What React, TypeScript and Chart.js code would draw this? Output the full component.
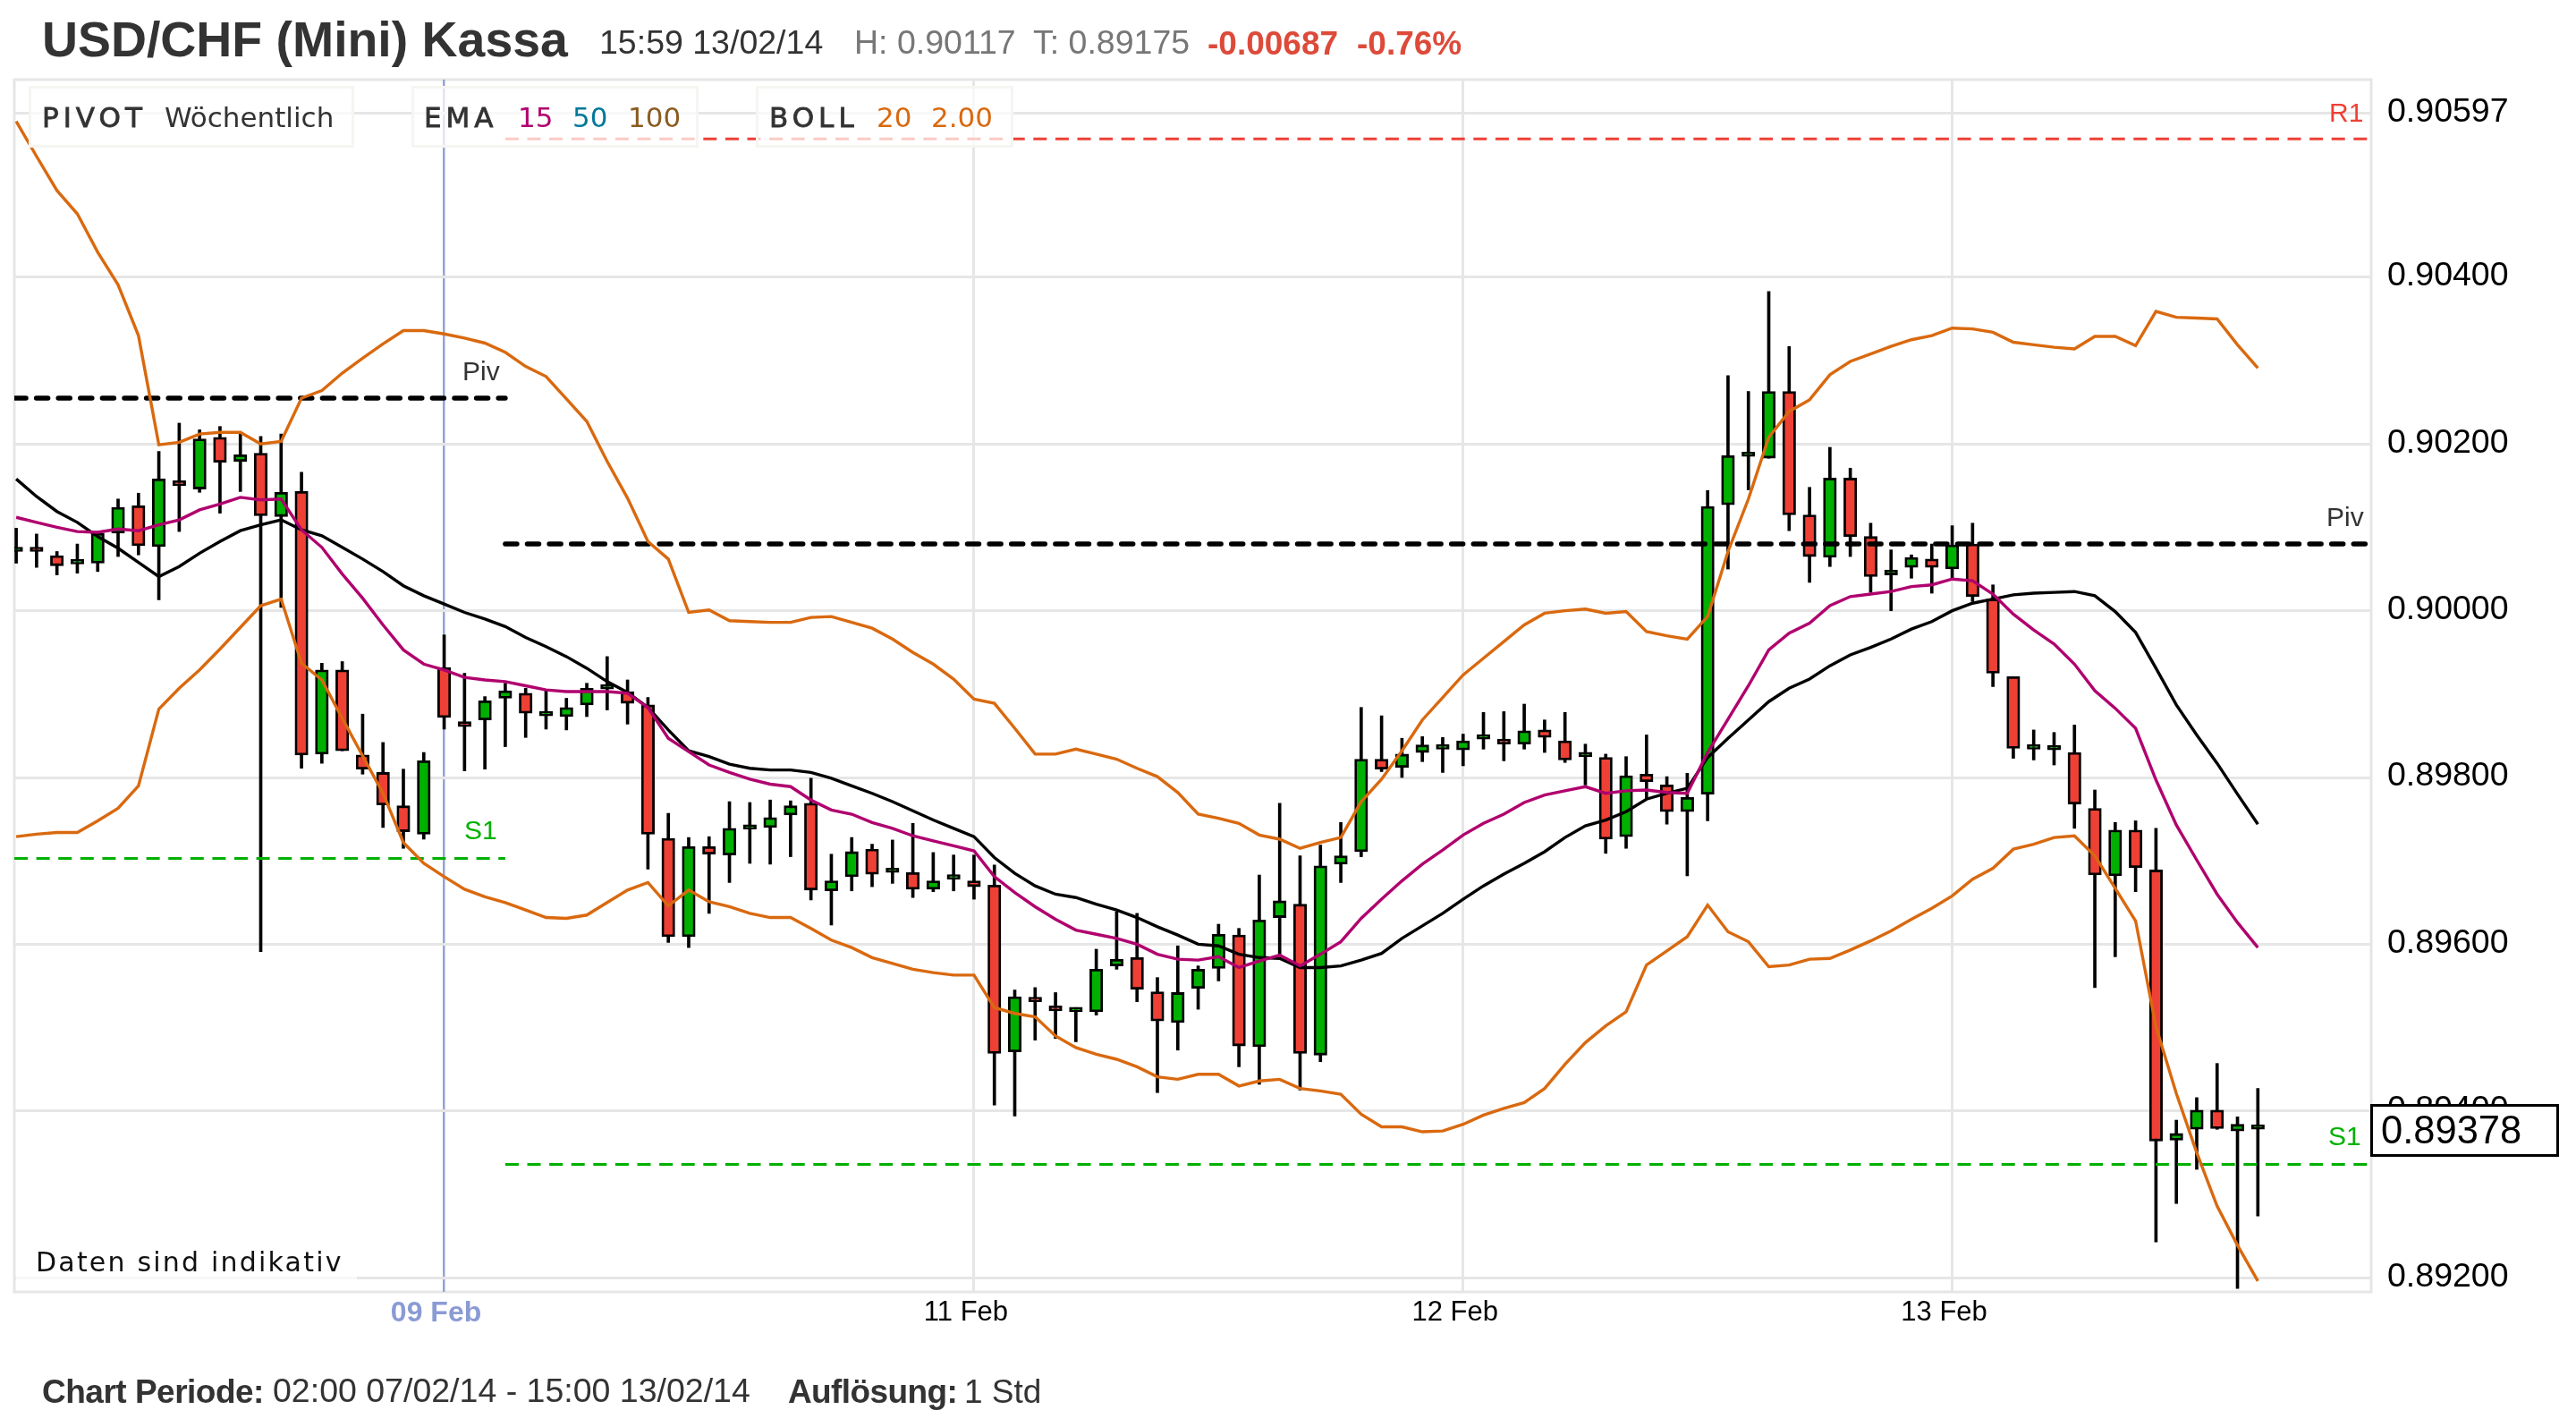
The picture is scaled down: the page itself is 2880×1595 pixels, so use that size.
import { useEffect, useRef } from "react";
import type { CSSProperties, ReactNode } from "react";
import { Chart, registerables } from "chart.js";

Chart.register(...registerables);

// one value per hour, index 0 = 02:00 07/02/14
const opens = [
  0.90071, 0.90072, 0.90066, 0.90056, 0.90057, 0.90093, 0.90126, 0.90077, 0.90156, 0.90146,
  0.90208, 0.90179, 0.90189, 0.90113, 0.90143, 0.89828, 0.89929, 0.89827, 0.89806, 0.89766,
  0.89732, 0.89932, 0.89867, 0.89869, 0.89895, 0.89901, 0.89874, 0.89873, 0.89887, 0.89906,
  0.89903, 0.89887, 0.89727, 0.89609, 0.89717, 0.89707, 0.89738, 0.8974, 0.89755, 0.89769,
  0.89664, 0.89681, 0.89714, 0.89686, 0.89686, 0.89666, 0.89678, 0.89676, 0.89671, 0.89471,
  0.89536, 0.89526, 0.89519, 0.89519, 0.89574, 0.89584, 0.89543, 0.89506, 0.89547, 0.89571,
  0.89611, 0.89477, 0.89632, 0.89648, 0.89467, 0.89696, 0.89711, 0.89822, 0.89812, 0.8983,
  0.89834, 0.89833, 0.89846, 0.89846, 0.8984, 0.89857, 0.89844, 0.89825, 0.89824, 0.89729,
  0.89804, 0.89791, 0.89759, 0.8978, 0.90127, 0.90185, 0.90183, 0.90263, 0.90115, 0.90064,
  0.90159, 0.90089, 0.90043, 0.90052, 0.90062, 0.9005, 0.9008, 0.90014, 0.89921, 0.89834,
  0.89833, 0.8983, 0.89763, 0.89682, 0.89737, 0.89689, 0.89365, 0.89378, 0.89401, 0.89376,
  0.89378,
];
const closes = [
  0.90075, 0.90071, 0.90054, 0.90056, 0.90093, 0.90124, 0.90078, 0.90158, 0.9015, 0.90206,
  0.90178, 0.90187, 0.90114, 0.90142, 0.89827, 0.89929, 0.89832, 0.8981, 0.89767, 0.89735,
  0.8982, 0.89872, 0.89861, 0.89892, 0.89904, 0.89877, 0.89874, 0.89884, 0.89907, 0.89906,
  0.89889, 0.89732, 0.89609, 0.89717, 0.89708, 0.89739, 0.89738, 0.89752, 0.89766, 0.89665,
  0.89676, 0.89711, 0.89684, 0.89686, 0.89666, 0.89676, 0.89678, 0.89669, 0.89469, 0.89537,
  0.89531, 0.8952, 0.89519, 0.8957, 0.89582, 0.89546, 0.89508, 0.89542, 0.8957, 0.89612,
  0.89478, 0.89629, 0.89652, 0.89469, 0.89694, 0.89706, 0.89822, 0.8981, 0.89828, 0.89839,
  0.89834, 0.89844, 0.89846, 0.8984, 0.89856, 0.89848, 0.89821, 0.89825, 0.89726, 0.89802,
  0.89795, 0.89759, 0.89776, 0.90125, 0.90186, 0.90185, 0.90263, 0.90115, 0.90065, 0.90159,
  0.90089, 0.90041, 0.90049, 0.90064, 0.90052, 0.90079, 0.90017, 0.89925, 0.89835, 0.89834,
  0.89833, 0.89768, 0.89683, 0.89737, 0.89692, 0.89364, 0.89373, 0.89401, 0.89379, 0.89384,
  0.89378,
];
const highs = [
  0.90099, 0.90092, 0.90071, 0.9008, 0.90095, 0.90134, 0.90141, 0.90191, 0.90225, 0.90217,
  0.90221, 0.90212, 0.90209, 0.90212, 0.90166, 0.89937, 0.89939, 0.89876, 0.89842, 0.8981,
  0.8983, 0.89971, 0.89925, 0.89897, 0.89913, 0.89907, 0.89904, 0.89895, 0.89913, 0.89945,
  0.89917, 0.89896, 0.89757, 0.89728, 0.89729, 0.89771, 0.8977, 0.89773, 0.89772, 0.89799,
  0.89708, 0.89728, 0.8972, 0.89725, 0.89745, 0.8971, 0.89707, 0.89707, 0.89695, 0.89545,
  0.89548, 0.89542, 0.89524, 0.89594, 0.89639, 0.89637, 0.8956, 0.89598, 0.89574, 0.89624,
  0.89619, 0.89683, 0.89769, 0.89706, 0.89719, 0.89746, 0.89884, 0.89874, 0.89847, 0.89849,
  0.89848, 0.89852, 0.89878, 0.89879, 0.89888, 0.89869, 0.89878, 0.8984, 0.89828, 0.89825,
  0.89851, 0.89801, 0.89805, 0.90144, 0.90282, 0.90263, 0.90383, 0.90317, 0.90148, 0.90196,
  0.90171, 0.90105, 0.90073, 0.90067, 0.9008, 0.90102, 0.90105, 0.90031, 0.89921, 0.89857,
  0.89854, 0.89863, 0.89785, 0.89746, 0.89748, 0.89739, 0.89389, 0.89416, 0.89457, 0.89393,
  0.89427,
];
const lows = [
  0.90057, 0.90052, 0.90043, 0.90045, 0.90047, 0.90065, 0.90067, 0.90013, 0.90095, 0.90142,
  0.90117, 0.90143, 0.89591, 0.90004, 0.89811, 0.89817, 0.89832, 0.89804, 0.8974, 0.89715,
  0.89726, 0.89858, 0.89808, 0.8981, 0.89837, 0.89848, 0.89858, 0.89857, 0.89873, 0.89881,
  0.89864, 0.8969, 0.89602, 0.89596, 0.89637, 0.89674, 0.89697, 0.89696, 0.89705, 0.89653,
  0.89623, 0.89664, 0.89669, 0.89673, 0.89656, 0.89663, 0.89664, 0.89654, 0.89407, 0.89394,
  0.89485, 0.89487, 0.89483, 0.89515, 0.8957, 0.89531, 0.89422, 0.89473, 0.89522, 0.89556,
  0.89453, 0.89432, 0.89587, 0.89425, 0.89459, 0.89674, 0.89705, 0.89807, 0.898, 0.89819,
  0.89806, 0.89814, 0.89834, 0.8982, 0.89834, 0.8983, 0.89818, 0.89791, 0.89709, 0.89715,
  0.89775, 0.89744, 0.89682, 0.89748, 0.9005, 0.90145, 0.90183, 0.90096, 0.90034, 0.90053,
  0.90065, 0.90022, 0.9, 0.90039, 0.90021, 0.90039, 0.90011, 0.89909, 0.89823, 0.89821,
  0.89815, 0.89739, 0.89548, 0.89585, 0.89663, 0.89243, 0.89289, 0.8933, 0.89378, 0.89187,
  0.89274,
];
const ema15 = [
  0.90112, 0.90106, 0.901, 0.90095, 0.90094, 0.90098, 0.90096, 0.90103, 0.90109, 0.90121,
  0.90128, 0.90136, 0.90133, 0.90134, 0.90097, 0.90076, 0.90044, 0.90015, 0.89983, 0.89953,
  0.89936, 0.89929, 0.8992, 0.89917, 0.89915, 0.8991, 0.89905, 0.89903, 0.89903, 0.89903,
  0.89901, 0.89884, 0.89847, 0.89831, 0.89815, 0.89806, 0.89798, 0.89792, 0.89789, 0.89773,
  0.89761, 0.89756, 0.89746, 0.89739, 0.8973, 0.89724, 0.89718, 0.89712, 0.89681, 0.89662,
  0.89645, 0.8963, 0.89617, 0.89612, 0.89607, 0.896, 0.89588, 0.89582, 0.89581, 0.89585,
  0.89572, 0.8958, 0.89587, 0.89574, 0.89588, 0.89603, 0.89631, 0.89654, 0.89676, 0.89696,
  0.89713, 0.89731, 0.89745, 0.89756, 0.8977, 0.89779, 0.89784, 0.89789, 0.89781, 0.89784,
  0.89785, 0.89782, 0.89781, 0.8983, 0.8987, 0.8991, 0.89953, 0.89973, 0.89985, 0.90006,
  0.90017, 0.9002, 0.90023, 0.90029, 0.90031, 0.90038, 0.90036, 0.9002, 0.89996, 0.89977,
  0.8996, 0.89936, 0.89904, 0.89883, 0.89859, 0.89797, 0.89743, 0.89701, 0.8966, 0.89626,
  0.89596,
];
const ema50 = [
  0.90158, 0.90137, 0.90119, 0.90106, 0.90089, 0.90075, 0.90058, 0.90041, 0.90053, 0.90069,
  0.90083, 0.90096, 0.90103, 0.90109, 0.90097, 0.9009, 0.90076, 0.90062, 0.90047, 0.9003,
  0.90018, 0.90008, 0.89998, 0.8999, 0.89981, 0.89968, 0.89957, 0.89945, 0.89931, 0.89915,
  0.89902, 0.89884, 0.89857, 0.89832, 0.89825, 0.89816, 0.89811, 0.89809, 0.89809, 0.89806,
  0.89799, 0.8979, 0.89781, 0.89771, 0.8976, 0.89749, 0.89739, 0.89729, 0.89704, 0.89685,
  0.8967, 0.8966, 0.89656, 0.89648, 0.89641, 0.89632, 0.89621, 0.89611, 0.896, 0.89598,
  0.89588, 0.89584, 0.89583, 0.89572, 0.89572, 0.89574, 0.89581, 0.89589, 0.89607, 0.89622,
  0.89637, 0.89654, 0.8967, 0.89684, 0.89697, 0.89711, 0.89728, 0.89742, 0.89749, 0.89759,
  0.89774, 0.89781, 0.89787, 0.89824, 0.89847, 0.89869, 0.89891, 0.89907, 0.89918, 0.89934,
  0.89947, 0.89956, 0.89966, 0.89978, 0.89987, 0.9, 0.90009, 0.90014, 0.90019, 0.90021,
  0.90022, 0.90023, 0.90018, 0.89999, 0.89974, 0.89931, 0.89887, 0.89851, 0.89817, 0.8978,
  0.89744,
];
const bollUpper = [
  0.90587, 0.90545, 0.90504, 0.90476, 0.9043, 0.90391, 0.9033, 0.90199, 0.90202, 0.90212,
  0.90214, 0.90214, 0.902, 0.90203, 0.90255, 0.90264, 0.90285, 0.90303, 0.9032, 0.90336,
  0.90336, 0.90332, 0.90327, 0.90321, 0.9031, 0.90293, 0.90281, 0.90254, 0.90227, 0.90179,
  0.90135, 0.90083, 0.90062, 0.89998, 0.90001, 0.89988, 0.89987, 0.89986, 0.89986, 0.89992,
  0.89993, 0.89986, 0.89979, 0.89966, 0.8995, 0.89936, 0.89918, 0.89894, 0.89889, 0.89859,
  0.89828, 0.89828, 0.89834, 0.89828, 0.89822, 0.89811, 0.89801, 0.89782, 0.89756, 0.89751,
  0.89745, 0.89731, 0.89726, 0.89715, 0.89722, 0.89728, 0.89771, 0.89798, 0.89832, 0.89869,
  0.89896, 0.89923, 0.89943, 0.89963, 0.89983, 0.89997, 0.9, 0.90002, 0.89997, 0.89999,
  0.89975, 0.8997, 0.89966, 0.89993, 0.90071, 0.90134, 0.90208, 0.90239, 0.90253, 0.90283,
  0.90299, 0.90308, 0.90317, 0.90325, 0.9033, 0.90339, 0.90338, 0.90334, 0.90322, 0.90319,
  0.90316, 0.90314, 0.90329, 0.90329, 0.90318, 0.90359, 0.90352, 0.90351, 0.9035, 0.90319,
  0.90291,
];
const bollLower = [
  0.89729, 0.89732, 0.89734, 0.89734, 0.89748, 0.89763, 0.8979, 0.89882, 0.89907, 0.89929,
  0.89954, 0.8998, 0.90006, 0.90014, 0.89937, 0.89917, 0.89871, 0.89826, 0.89781, 0.89722,
  0.89697, 0.89681, 0.89666, 0.89657, 0.8965, 0.89641, 0.89632, 0.89631, 0.89635, 0.8965,
  0.89665, 0.89674, 0.89646, 0.89665, 0.89651, 0.89645, 0.89637, 0.89632, 0.89632, 0.89619,
  0.89605, 0.89596, 0.89584, 0.89577, 0.8957, 0.89566, 0.89563, 0.89563, 0.89524, 0.89517,
  0.89513, 0.8949, 0.89476, 0.89468, 0.89462, 0.89453, 0.89441, 0.89438, 0.89444, 0.89444,
  0.8943, 0.89436, 0.89438, 0.89427, 0.89424, 0.8942, 0.89396, 0.89381, 0.89381, 0.89375,
  0.89376, 0.89384, 0.89395, 0.89403, 0.8941, 0.89427, 0.89456, 0.89482, 0.89502, 0.89519,
  0.89575, 0.89592, 0.89609, 0.89647, 0.89615, 0.89603, 0.89573, 0.89575, 0.89582, 0.89583,
  0.89593, 0.89604, 0.89616, 0.8963, 0.89643, 0.89658, 0.89678, 0.89691, 0.89714, 0.8972,
  0.89728, 0.8973, 0.89706, 0.89667, 0.89628, 0.89501, 0.89421, 0.8935, 0.89286, 0.89239,
  0.89196,
];

const yTicks = [0.892, 0.894, 0.896, 0.898, 0.9, 0.902, 0.904, 0.90597];
const xTicks = [21, 47, 71, 95];
const xTickLabels = ["09 Feb", "11 Feb", "12 Feb", "13 Feb"];

// weekly pivots, the week changes at index 24
const weekChange = 24;
const prevPivot = 0.90255;
const prevS1 = 0.89703;
const currPivot = 0.9008;
const currS1 = 0.89336;
const currR1 = 0.90566;

const X_MIN = -0.092;
const X_MAX = 115.56;
const Y_MIN = 0.89183;
const Y_MAX = 0.90637;

const GRID = "#e6e6e6";
const CROSS = "#93a3d6";
const GREEN = "#00b000";
const RED = "#ee4035";
const ORANGE = "#d9690f";
const MAGENTA = "#b0006e";
const SANS = '"Liberation Sans", Arial, sans-serif';
const PILL_FONT = '"DejaVu Sans", sans-serif';

const series = (values: number[]) => values.map((y, x) => ({ x, y }));

const frame = {
  id: "frame",
  beforeDraw(chart: Chart) {
    const { ctx, chartArea: a } = chart;
    ctx.save();
    ctx.strokeStyle = GRID;
    ctx.lineWidth = 3;
    ctx.strokeRect(a.left, a.top, a.right - a.left, a.bottom - a.top);
    ctx.restore();
  },
};

const PriceChart = () => {
  const canvasRef = useRef<HTMLCanvasElement | null>(null);

  useEffect(() => {
    const ctx = canvasRef.current?.getContext("2d");
    if (!ctx) return;

    const line = (values: { x: number; y: number }[], color: string, order: number, width = 3.4) => ({
      type: "line" as const,
      data: values,
      borderColor: color,
      borderWidth: width,
      pointRadius: 0,
      tension: 0,
      order,
    });
    const level = (from: number, to: number, y: number, color: string, order: number) => ({
      ...line([{ x: from, y }, { x: to, y }], color, order, 3),
      borderDash: [15, 9.6],
    });
    const pivot = (from: number, to: number, y: number) => ({
      ...line([{ x: from, y }, { x: to, y }], "#000000", 4, 5.5),
      borderDash: [13, 11.6],
      borderCapStyle: "round" as const,
    });

    const chart = new Chart(ctx, {
      type: "bar",
      data: {
        datasets: [
          line(series(bollUpper), ORANGE, 0),
          line(series(bollLower), ORANGE, 0),
          line(series(ema15), MAGENTA, 1),
          line(series(ema50), "#000000", 2),
          pivot(X_MIN, weekChange, prevPivot),
          pivot(weekChange, X_MAX, currPivot),
          level(X_MIN, weekChange, prevS1, GREEN, 3),
          level(weekChange, X_MAX, currS1, GREEN, 3),
          level(weekChange, X_MAX, currR1, RED, 3),
          {
            type: "bar" as const,
            data: opens.map((o, x) => ({ x, y: [Math.min(o, closes[x]), Math.max(o, closes[x])] })),
            backgroundColor: opens.map((o, i) => (closes[i] >= o ? GREEN : RED)),
            borderColor: "#000000",
            borderWidth: 2.8,
            borderSkipped: false,
            barThickness: 14.5,
            minBarLength: 5,
            grouped: false,
            order: 5,
          },
          {
            type: "bar" as const,
            data: lows.map((l, x) => ({ x, y: [l, highs[x]] })),
            backgroundColor: "#000000",
            barThickness: 3,
            grouped: false,
            order: 6,
          },
        ] as any,
      },
      options: {
        responsive: false,
        animation: false,
        devicePixelRatio: 1,
        layout: { padding: { left: 16, top: 89, right: 0, bottom: 0 } },
        plugins: { legend: { display: false }, tooltip: { enabled: false } },
        scales: {
          x: {
            type: "linear",
            min: X_MIN,
            max: X_MAX,
            offset: false,
            afterBuildTicks: (axis) => {
              axis.ticks = xTicks.map((value) => ({ value }));
            },
            afterFit: (axis) => {
              axis.height = 151;
            },
            border: { display: false },
            grid: {
              offset: false,
              drawTicks: false,
              color: (c) => (c.tick?.value === xTicks[0] ? CROSS : GRID),
              lineWidth: (c) => (c.tick?.value === xTicks[0] ? 2.5 : 3),
            },
            ticks: {
              autoSkip: false,
              maxRotation: 0,
              padding: 5,
              labelOffset: -9,
              color: (c) => (c.tick?.value === xTicks[0] ? "#8a9bd4" : "#000000"),
              font: (c) =>
                c.tick?.value === xTicks[0]
                  ? { family: SANS, size: 32, weight: "bold" }
                  : { family: SANS, size: 31 },
              callback: (v) => xTickLabels[xTicks.indexOf(Number(v))],
            },
          },
          y: {
            type: "linear",
            position: "right",
            min: Y_MIN,
            max: Y_MAX,
            afterBuildTicks: (axis) => {
              axis.ticks = yTicks.map((value) => ({ value }));
            },
            afterFit: (axis) => {
              axis.width = 229;
            },
            border: { display: false },
            grid: { color: GRID, lineWidth: 3, drawTicks: false },
            ticks: {
              autoSkip: false,
              padding: 18,
              labelOffset: -1,
              color: "#000000",
              font: { family: SANS, size: 37.5 },
              callback: (v) => Number(v).toFixed(5),
            },
          },
        },
      },
      plugins: [frame],
    });

    return () => {
      chart.destroy();
    };
  }, []);

  return (
    <canvas
      ref={canvasRef}
      width={2880}
      height={1595}
      style={{ position: "absolute", left: 0, top: 0, width: 2880, height: 1595, display: "block" }}
    />
  );
};

type TextProps = {
  x: number;
  base: number;
  size: number;
  color?: string;
  bold?: boolean;
  family?: string;
  spacing?: number;
  stroke?: number;
  children: ReactNode;
};

// places a line of text by its baseline
const Text = ({ x, base, size, color = "#333333", bold, family = SANS, spacing, stroke, children }: TextProps) => {
  const style: CSSProperties = {
    position: "absolute",
    left: x,
    top: base - size * 0.8465,
    fontFamily: family,
    fontSize: size,
    fontWeight: bold ? 700 : 400,
    lineHeight: 1,
    letterSpacing: spacing,
    WebkitTextStroke: stroke ? `${stroke}px ${color}` : undefined,
    whiteSpace: "nowrap",
    color,
  };
  return <div style={style}>{children}</div>;
};

const Pill = ({ left, right }: { left: number; right: number }) => (
  <div
    style={{
      position: "absolute",
      left,
      top: 96,
      width: right - left,
      height: 69,
      boxSizing: "border-box",
      border: "3px solid #f5f5f2",
      background: "rgba(255,255,255,0.72)",
    }}
  />
);

const PillText = (props: { x: number; color?: string; children: ReactNode }) => (
  <Text base={142} size={31} family={PILL_FONT} {...props} />
);

const PillName = (props: { x: number; children: ReactNode }) => (
  <Text base={142} size={31} family={PILL_FONT} spacing={5} stroke={0.8} {...props} />
);

export default function App() {
  return (
    <div style={{ position: "absolute", left: 0, top: 0, width: 2880, height: 1595, overflow: "hidden", background: "#fff" }}>
      <PriceChart />

      <Text x={47} base={64} size={55.4} bold>USD/CHF (Mini) Kassa</Text>
      <Text x={670} base={61} size={37.5}>15:59 13/02/14</Text>
      <Text x={955} base={61} size={37.5} color="#777777">H: 0.90117</Text>
      <Text x={1155} base={61} size={37.5} color="#777777">T: 0.89175</Text>
      <Text x={1350} base={61} size={37} color="#dd4a3a" bold>-0.00687</Text>
      <Text x={1517} base={61} size={37} color="#dd4a3a" bold>-0.76%</Text>

      <Pill left={32} right={396} />
      <Pill left={460} right={781} />
      <Pill left={845} right={1133} />
      <PillName x={47}>PIVOT</PillName>
      <PillText x={184}>Wöchentlich</PillText>
      <PillName x={474}>EMA</PillName>
      <PillText x={579} color={MAGENTA}>15</PillText>
      <PillText x={640} color="#00789a">50</PillText>
      <PillText x={702} color="#8a5c1f">100</PillText>
      <PillName x={860}>BOLL</PillName>
      <PillText x={980} color={ORANGE}>20</PillText>
      <PillText x={1041} color={ORANGE}>2.00</PillText>

      <Text x={517} base={425} size={30}>Piv</Text>
      <Text x={519} base={938} size={30} color={GREEN}>S1</Text>
      <Text x={2601} base={588} size={30}>Piv</Text>
      <Text x={2604} base={136} size={30} color={RED}>R1</Text>
      <Text x={2603} base={1280} size={30} color={GREEN}>S1</Text>

      <div style={{ position: "absolute", left: 18, top: 1392, width: 381, height: 42, background: "rgba(255,255,255,0.72)" }} />
      <Text x={40} base={1421} size={30} family={PILL_FONT} color="#111111" spacing={2.2}>Daten sind indikativ</Text>

      <div
        style={{
          position: "absolute",
          left: 2650,
          top: 1234,
          width: 211,
          height: 59,
          boxSizing: "border-box",
          border: "3px solid #000",
          background: "#fff",
        }}
      />
      <Text x={2662} base={1279} size={43.5} color="#000000">0.89378</Text>

      <Text x={47} base={1568} size={37} bold spacing={-0.5}>Chart Periode:</Text>
      <Text x={305} base={1568} size={37.5}>02:00 07/02/14 - 15:00 13/02/14</Text>
      <Text x={881} base={1568} size={37} bold spacing={-0.6}>Auflösung:</Text>
      <Text x={1078} base={1568} size={37}>1 Std</Text>
    </div>
  );
}
